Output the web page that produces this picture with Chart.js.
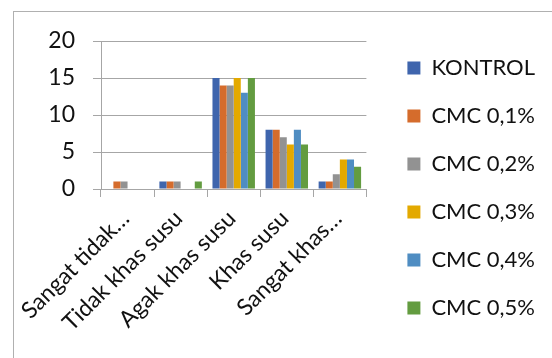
<!DOCTYPE html>
<html>
<head>
<meta charset="utf-8">
<script src="https://cdn.jsdelivr.net/npm/chart.js@4.4.1/dist/chart.umd.min.js"></script>
<style>
  html, body { margin: 0; padding: 0; background: #fff; overflow: hidden; }
  #wrap { position: relative; width: 552px; height: 358px; }
  #frame { position: absolute; left: 13px; top: 11px; width: 600px; height: 400px; border: 1px solid #b0b0b0; box-sizing: border-box; }
  canvas { position: absolute; left: 0; top: 0; }
</style>
</head>
<body>
<div id="wrap">
  <div id="frame"></div>
  <canvas id="chart" width="552" height="358"></canvas>
</div>
<script>
const categories = ['Sangat tidak…', 'Tidak khas susu', 'Agak khas susu', 'Khas susu', 'Sangat khas…'];
const seriesNames = ['KONTROL', 'CMC 0,1%', 'CMC 0,2%', 'CMC 0,3%', 'CMC 0,4%', 'CMC 0,5%'];
const kontrol = [0, 1, 15, 8, 1];
const cmc01 = [1, 1, 14, 8, 1];
const cmc02 = [1, 1, 14, 7, 2];
const cmc03 = [0, 0, 15, 6, 4];
const cmc04 = [0, 0, 13, 8, 4];
const cmc05 = [0, 1, 15, 6, 3];
const yTicks = [0, 5, 10, 15, 20];

const colors = ['#3f65ad', '#d56c2c', '#929292', '#e3a900', '#4f8dc2', '#639c40'];
const values = [kontrol, cmc01, cmc02, cmc03, cmc04, cmc05];
const font = 'Lato, "Open Sans", sans-serif';

// empty boxes that only reserve room so the plot sits where the original does
const spacer = (axis, position, size) => ({
  type: 'linear',
  axis: axis,
  position: position,
  afterFit(scale) {
    if (axis === 'x') scale.height = size; else scale.width = size;
  },
  grid: { display: false },
  border: { display: false },
  ticks: { display: false }
});

new Chart(document.getElementById('chart'), {
  type: 'bar',
  data: {
    labels: categories,
    datasets: seriesNames.map((name, i) => ({
      label: name,
      data: values[i],
      backgroundColor: colors[i],
      borderWidth: 0,
      categoryPercentage: 0.8,
      barPercentage: 1.0
    }))
  },
  options: {
    responsive: false,
    animation: false,
    layout: { padding: { left: 13, top: 29, right: 7, bottom: 11 } },
    plugins: {
      tooltip: { enabled: false },
      legend: {
        position: 'right',
        align: 'center',
        maxWidth: 220,
        labels: {
          font: { family: font, size: 22 },
          color: '#111',
          boxWidth: 13,
          boxHeight: 13,
          padding: 26
        }
      }
    },
    scales: {
      x: {
        afterFit(scale) { scale.height = 158; },
        grid: { drawOnChartArea: false, color: '#a6a6a6', tickLength: 8 },
        border: { color: '#a6a6a6' },
        ticks: {
          autoSkip: false,
          maxRotation: 45,
          minRotation: 45,
          color: '#111',
          font: { family: font, size: 23 },
          padding: 8,
          labelOffset: -2
        }
      },
      y: {
        min: 0,
        max: 20,
        afterFit(scale) { scale.width = 88; },
        afterBuildTicks(scale) { scale.ticks = yTicks.map(v => ({ value: v })); },
        grid: { color: '#a6a6a6', tickLength: 8 },
        border: { color: '#a6a6a6' },
        ticks: {
          color: '#111',
          font: { family: font, size: 23 },
          padding: 18
        }
      },
      gapRight: spacer('y', 'right', 15),
      gapTop: spacer('x', 'top', 12)
    }
  }
});
</script>
</body>
</html>
